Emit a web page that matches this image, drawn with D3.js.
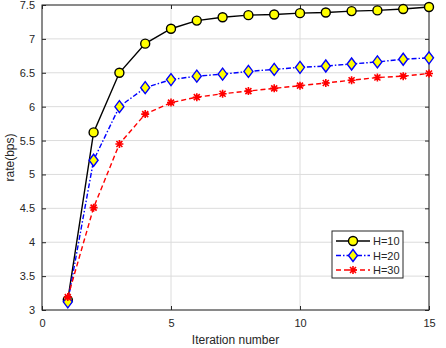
<!DOCTYPE html>
<html>
<head>
<meta charset="utf-8">
<script src="https://cdn.jsdelivr.net/npm/d3@7"></script>
<style>
  body { margin: 0; background: #fff; }
  text { font-family: "Liberation Sans", Arial, sans-serif; }
</style>
</head>
<body>
<div id="chart"></div>
<script>
// data
var iterations = [1, 2, 3, 4, 5, 6, 7, 8, 9, 10, 11, 12, 13, 14, 15];
var h10 = [3.15, 5.62, 6.50, 6.93, 7.15, 7.27, 7.32, 7.35, 7.36, 7.38, 7.39, 7.41, 7.42, 7.44, 7.47];
var h20 = [3.12, 5.21, 6.00, 6.28, 6.40, 6.45, 6.48, 6.52, 6.55, 6.58, 6.60, 6.63, 6.66, 6.70, 6.72];
var h30 = [3.19, 4.51, 5.45, 5.89, 6.06, 6.14, 6.19, 6.23, 6.27, 6.31, 6.35, 6.39, 6.43, 6.45, 6.49];
var seriesNames = ["H=10", "H=20", "H=30"];
var xTicks = [0, 5, 10, 15];
var yTicks = [3, 3.5, 4, 4.5, 5, 5.5, 6, 6.5, 7, 7.5];

var W = 446, H = 348;
var margin = {top: 5, right: 17, bottom: 38, left: 42},
    width = W - margin.left - margin.right,
    height = H - margin.top - margin.bottom;

var svg = d3.select("#chart").append("svg")
    .attr("width", W)
    .attr("height", H);

var g = svg.append("g")
    .attr("transform", "translate(" + margin.left + "," + margin.top + ")");

var x = d3.scaleLinear().domain([0, 15]).range([0, width]),
    y = d3.scaleLinear().domain([3, 7.5]).range([height, 0]);

// grid
g.append("g").selectAll("line")
  .data(yTicks).enter().append("line")
  .attr("x1", 0).attr("x2", width)
  .attr("y1", d => y(d)).attr("y2", d => y(d))
  .attr("stroke", "#dcdcdc").attr("stroke-width", 1);
g.append("g").selectAll("line")
  .data(xTicks).enter().append("line")
  .attr("y1", 0).attr("y2", height)
  .attr("x1", d => x(d)).attr("x2", d => x(d))
  .attr("stroke", "#dcdcdc").attr("stroke-width", 1);

// axes, matlab style ticks pointing inwards
function styleAxis(sel) {
  sel.select(".domain").remove();
  sel.selectAll(".tick line").attr("stroke", "#262626");
  sel.selectAll("text").attr("fill", "#262626").style("font-size", "11px");
}
g.append("g").attr("transform", "translate(0," + height + ")")
  .call(d3.axisBottom(x).tickValues(xTicks).tickSizeInner(-4).tickSizeOuter(0).tickPadding(9))
  .call(styleAxis);
g.append("g")
  .call(d3.axisTop(x).tickValues(xTicks).tickSizeInner(-4).tickSizeOuter(0).tickFormat(""))
  .call(styleAxis);
g.append("g")
  .call(d3.axisLeft(y).tickValues(yTicks).tickSizeInner(-4).tickSizeOuter(0).tickPadding(7)
    .tickFormat(d3.format("")))
  .call(styleAxis);
g.append("g").attr("transform", "translate(" + width + ",0)")
  .call(d3.axisRight(y).tickValues(yTicks).tickSizeInner(-4).tickSizeOuter(0).tickFormat(""))
  .call(styleAxis);

g.append("rect")
  .attr("width", width).attr("height", height)
  .attr("fill", "none").attr("stroke", "#262626").attr("stroke-width", 1);

// axis labels
svg.append("text")
  .attr("x", margin.left + width / 2).attr("y", 344)
  .attr("text-anchor", "middle").style("font-size", "12px").attr("fill", "#262626")
  .text("Iteration number");
svg.append("text")
  .attr("transform", "translate(14," + (margin.top + height / 2) + ") rotate(-90)")
  .attr("text-anchor", "middle").style("font-size", "12px").attr("fill", "#262626")
  .text("rate(bps)");

// series
var styles = [
  {values: h10, color: "#000000", dash: null, marker: "circle"},
  {values: h20, color: "#0000ff", dash: "5,2,1.5,2", marker: "diamond"},
  {values: h30, color: "#ff0000", dash: "5,3", marker: "star"}
];

var line = d3.line()
  .x((d, i) => x(iterations[i]))
  .y(d => y(d));

function drawMarker(sel, type, color) {
  if (type === "circle") {
    sel.append("circle").attr("r", 4.5)
      .attr("fill", "#ffff00").attr("stroke", color).attr("stroke-width", 1.4);
  } else if (type === "diamond") {
    sel.append("path").attr("d", "M0,-6L4.5,0L0,6L-4.5,0Z")
      .attr("fill", "#ffff00").attr("stroke", color).attr("stroke-width", 1.4);
  } else {
    sel.append("path")
      .attr("d", "M-4,0H4M0,-4V4M-3,-3L3,3M-3,3L3,-3")
      .attr("fill", "none").attr("stroke", color).attr("stroke-width", 1.6);
  }
}

styles.forEach(function(s) {
  g.append("path")
    .datum(s.values)
    .attr("d", line)
    .attr("fill", "none")
    .attr("stroke", s.color)
    .attr("stroke-width", 1.4)
    .attr("stroke-dasharray", s.dash);
  g.append("g").selectAll("g")
    .data(s.values).enter().append("g")
    .attr("transform", (d, i) => "translate(" + x(iterations[i]) + "," + y(d) + ")")
    .each(function() { drawMarker(d3.select(this), s.marker, s.color); });
});

// legend
var legend = svg.append("g").attr("transform", "translate(332,231)");
legend.append("rect")
  .attr("width", 71).attr("height", 47)
  .attr("fill", "#fff").attr("stroke", "#262626").attr("stroke-width", 1);
styles.forEach(function(s, i) {
  var row = legend.append("g").attr("transform", "translate(0," + (10 + i * 14.5) + ")");
  row.append("line").attr("x1", 4).attr("x2", 38)
    .attr("stroke", s.color).attr("stroke-width", 1.4)
    .attr("stroke-dasharray", s.dash);
  var m = row.append("g").attr("transform", "translate(21,0)");
  drawMarker(m, s.marker, s.color);
  row.append("text").attr("x", 41).attr("y", 4)
    .style("font-size", "11px").attr("fill", "#262626")
    .text(seriesNames[i]);
});
</script>
</body>
</html>
